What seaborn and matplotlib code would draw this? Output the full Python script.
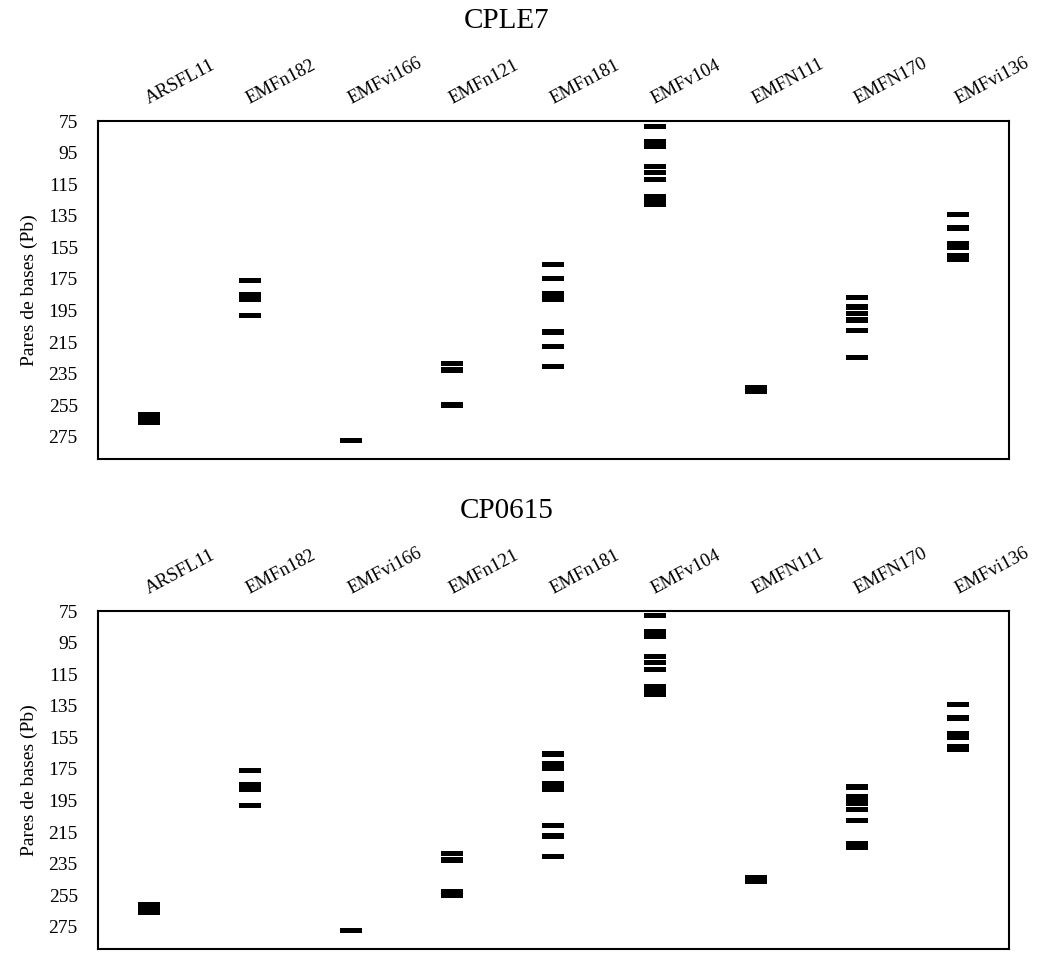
import numpy as np
import pandas as pd
import matplotlib
matplotlib.use("Agg")
import matplotlib.pyplot as plt
import matplotlib.transforms as mtransforms
from matplotlib.path import Path
import seaborn as sns

# ---------------- data ----------------
markers = ["ARSFL11", "EMFn182", "EMFvi166", "EMFn121", "EMFn181",
           "EMFv104", "EMFN111", "EMFN170", "EMFvi136"]

# allele sizes (bp) observed per marker, same order as `markers`
cple7_bands = [
    [261, 263.3, 265.6],
    [176, 185, 187.8, 198],
    [277.5],
    [228.6, 232.7, 254.9],
    [165.8, 174.8, 184.6, 187.8, 208.5, 217.8, 230.5],
    [78.3, 88.3, 91.2, 104, 107.8, 112, 123.2, 125.4, 127.6],
    [243.6, 246.3],
    [186.7, 192.8, 196.8, 201, 207.5, 224.7],
    [134.2, 142.8, 152.8, 155.1, 160.5, 162.7],
]

cp0615_bands = [
    [261, 263.3, 265.6],
    [176, 185, 187.8, 198],
    [277.3],
    [228.6, 232.7, 252.9, 255.1],
    [165.5, 171.8, 174.8, 184.6, 187.8, 210.7, 217.5, 230.5],
    [78, 88.3, 91.2, 104, 107.8, 112, 123.2, 125.4, 127.6],
    [243.6, 246.3],
    [186.5, 192.8, 196.5, 200.6, 207.5, 222.3, 224.4],
    [134.2, 142.8, 152.8, 154.7, 161, 162.7],
]

panel_titles = ["CPLE7", "CP0615"]
y_ticks = [75, 95, 115, 135, 155, 175, 195, 215, 235, 255, 275]
y_label = "Pares de bases (Pb)"


def long_df(bands):
    rows = [(m, v) for m, vals in zip(markers, bands) for v in vals]
    return pd.DataFrame(rows, columns=["marker", "bp"])


# ---------------- style ----------------
sns.set_theme(style="white")
plt.rcParams["font.family"] = ["Liberation Serif", "DejaVu Serif"]
for key in ["text.color", "axes.labelcolor", "xtick.color", "ytick.color",
            "axes.edgecolor"]:
    plt.rcParams[key] = "black"

W, H, DPI = 1042, 961, 100
fig = plt.figure(figsize=(W / DPI, H / DPI), dpi=DPI)

# band glyph: a wide flat rectangle (22 x 5.3 px)
bw, bh = 22.0, 5.3
band_path = Path([(-bw / 2, -bh / 2), (bw / 2, -bh / 2), (bw / 2, bh / 2),
                  (-bw / 2, bh / 2), (-bw / 2, -bh / 2)],
                 [Path.MOVETO, Path.LINETO, Path.LINETO, Path.LINETO,
                  Path.CLOSEPOLY])
band_size = (bw * 72 / DPI) ** 2

ax_left, ax_right = 98, 1009
ax_tops = [121, 611]
ax_h = 338
title_baselines = [28.3, 518.3]

for k, (bands, title) in enumerate(zip([cple7_bands, cp0615_bands], panel_titles)):
    top = ax_tops[k]
    ax = fig.add_axes([ax_left / W, 1 - (top + ax_h) / H,
                       (ax_right - ax_left) / W, ax_h / H])
    df = long_df(bands)
    sns.scatterplot(data=df, x="marker", y="bp", ax=ax, marker=band_path,
                    s=band_size, color="black", linewidth=0, edgecolor="none",
                    legend=False)
    ax.set_xlim(-0.5, len(markers) - 0.5)
    ax.set_ylim(289, 75)
    ax.set_yticks(y_ticks)
    ax.set_yticklabels([str(t) for t in y_ticks], fontsize=14)
    ax.set_xticks(range(len(markers)))
    ax.xaxis.set_ticks_position("top")
    ax.set_xticklabels(markers, rotation=28, ha="left", va="baseline",
                       rotation_mode="anchor", fontsize=13.5)
    shift = mtransforms.ScaledTranslation(4 / DPI, 0, fig.dpi_scale_trans)
    for lab in ax.get_xticklabels():
        lab.set_transform(lab.get_transform() + shift)
    ax.tick_params(axis="x", length=0, pad=12.2)
    ax.tick_params(axis="y", length=0, pad=14.5)
    ax.set_xlabel("")
    ax.set_ylabel(y_label, fontsize=14)
    ax.yaxis.set_label_coords(-0.066, 0.5)
    for sp in ax.spines.values():
        sp.set_visible(True)
        sp.set_color("black")
        sp.set_linewidth(1.5)
    ax.grid(False)
    ax.set_facecolor("white")
    fig.text(507 / W, 1 - title_baselines[k] / H, title, ha="center",
             va="baseline", fontsize=21, color="black")

fig.savefig("out.png", dpi=DPI, facecolor="white")
